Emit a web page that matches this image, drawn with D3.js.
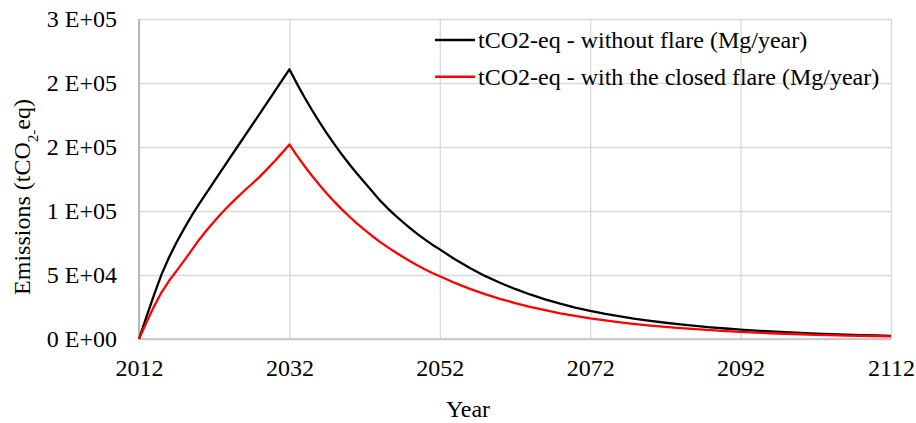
<!DOCTYPE html>
<html>
<head>
<meta charset="utf-8">
<script src="https://cdn.jsdelivr.net/npm/d3@7"></script>
<style>
  body { margin: 0; background: #fff; }
  text { font-family: "Liberation Serif", "Times New Roman", serif; fill: #000; }
</style>
</head>
<body>
<div id="chart"></div>
<script>
// Data.
var years = [2012, 2013, 2014, 2015, 2016, 2017, 2018, 2019, 2020, 2021,
  2022, 2023, 2024, 2025, 2026, 2027, 2028, 2029, 2030, 2031,
  2032, 2033, 2034, 2035, 2036, 2037, 2038, 2039, 2040, 2041,
  2042, 2043, 2044, 2045, 2046, 2047, 2048, 2049, 2050, 2051,
  2052, 2054, 2056, 2058, 2060, 2062, 2064, 2066, 2068, 2070,
  2072, 2074, 2076, 2078, 2080, 2082, 2084, 2086, 2088, 2090,
  2092, 2094, 2096, 2098, 2100, 2102, 2104, 2106, 2108, 2110, 2112];

var withoutFlare = [0, 17500, 34500, 50500, 63800, 75600, 86200, 96300, 105600, 114400,
  123200, 132000, 140700, 149400, 158100, 166800, 175500, 184300, 193100, 201900,
  210700, 199500, 188900, 178900, 169400, 160500, 152000, 143900, 136300, 129100,
  122200, 115500, 108500, 102500, 97000, 91800, 86800, 82100, 77800, 73700,
  70000, 62300, 55400, 49300, 43900, 39100, 34800, 31000, 27600, 24600,
  22000, 19700, 17700, 15800, 14200, 12700, 11400, 10200, 9100, 8200,
  7300, 6600, 5900, 5300, 4700, 4200, 3800, 3400, 3100, 2800, 2500];

var withFlare = [0, 13000, 25500, 36500, 45500, 53200, 61200, 69400, 77600, 85000,
  91800, 98400, 104500, 110300, 115800, 121100, 126500, 132500, 138700, 145200,
  152000, 143300, 135200, 127500, 120300, 113500, 107100, 101100, 95500, 90200,
  85200, 80500, 76100, 72000, 68100, 64400, 60900, 57600, 54500, 51600,
  49000, 43800, 39200, 35100, 31400, 28100, 25100, 22500, 20100, 18000,
  16100, 14500, 13000, 11700, 10500, 9500, 8500, 7700, 6900, 6200,
  5600, 5000, 4500, 4100, 3700, 3300, 3000, 2700, 2400, 2200, 2000];

var seriesNames = ["tCO2-eq - without flare (Mg/year)", "tCO2-eq - with the closed flare (Mg/year)"];
var seriesColors = ["#000000", "#ff0000"];
var xTickValues = [2012, 2032, 2052, 2072, 2092, 2112];
var yTickValues = [0, 50000, 100000, 150000, 200000, 250000];
var yTickLabels = ["0 E+00", "5 E+04", "1 E+05", "2 E+05", "2 E+05", "3 E+05"];

// Set up the width and height of the chart.
var svgWidth = 916;
var svgHeight = 423;
var margin = {top: 19, right: 25, bottom: 84, left: 139};
var chartWidth = svgWidth - margin.left - margin.right;
var chartHeight = svgHeight - margin.top - margin.bottom;
var fontSize = "24px";

var svg = d3.select("#chart").append("svg").attr("width", svgWidth).attr("height", svgHeight);
var chartGroup = svg.append("g").attr("transform", `translate(${margin.left},${margin.top})`);

var xScale = d3.scaleLinear().domain([2012, 2112]).range([0, chartWidth]);
var yScale = d3.scaleLinear().domain([0, 250000]).range([chartHeight, 0]);

// Gridlines.
var yGrid = chartGroup.append("g")
  .call(d3.axisLeft(yScale).tickValues(yTickValues).tickSize(-chartWidth).tickFormat(""));
yGrid.select(".domain").remove();
yGrid.selectAll("line").attr("stroke", "#d9d9d9").attr("stroke-width", 1.3);

var xGrid = chartGroup.append("g")
  .call(d3.axisBottom(xScale).tickValues(xTickValues).tickSize(chartHeight).tickFormat(""));
xGrid.select(".domain").remove();
xGrid.selectAll("line").attr("stroke", "#d9d9d9").attr("stroke-width", 1.3);

// Axis lines.
chartGroup.append("line").attr("x1", 0).attr("x2", chartWidth)
  .attr("y1", chartHeight).attr("y2", chartHeight)
  .attr("stroke", "#bfbfbf").attr("stroke-width", 1.5);
chartGroup.append("line").attr("x1", 0).attr("x2", 0)
  .attr("y1", 0).attr("y2", chartHeight)
  .attr("stroke", "#a6a6a6").attr("stroke-width", 1.5);

// Tick labels.
var leftAxis = chartGroup.append("g")
  .call(d3.axisLeft(yScale).tickValues(yTickValues).tickSize(0).tickPadding(22)
    .tickFormat((d, i) => yTickLabels[i]));
leftAxis.select(".domain").remove();
leftAxis.selectAll("text").style("font-size", fontSize).style("font-family", null);

var bottomAxis = chartGroup.append("g").attr("transform", `translate(0,${chartHeight})`)
  .call(d3.axisBottom(xScale).tickValues(xTickValues).tickSize(0).tickPadding(20)
    .tickFormat(d3.format("d")));
bottomAxis.select(".domain").remove();
bottomAxis.selectAll("text").style("font-size", fontSize).style("font-family", null);

// Lines.
var rows = years.map((y, i) => ({year: y, a: withoutFlare[i], b: withFlare[i]}));
var line = key => d3.line().x(d => xScale(d.year)).y(d => yScale(d[key]));

chartGroup.append("path").datum(rows).attr("d", line("a"))
  .attr("fill", "none").attr("stroke", seriesColors[0]).attr("stroke-width", 2.3)
  .attr("stroke-linejoin", "round");
chartGroup.append("path").datum(rows).attr("d", line("b"))
  .attr("fill", "none").attr("stroke", seriesColors[1]).attr("stroke-width", 2.3)
  .attr("stroke-linejoin", "round");

// Legend.
var legend = svg.append("g").attr("transform", "translate(435,40)");
seriesNames.forEach((name, i) => {
  legend.append("line").attr("x1", 0).attr("x2", 40)
    .attr("y1", i * 36.7).attr("y2", i * 36.7)
    .attr("stroke", seriesColors[i]).attr("stroke-width", 2.5);
  legend.append("text").attr("x", 43).attr("y", i * 36.7 + 8)
    .style("font-size", fontSize).text(name);
});

// Axis titles.
svg.append("text")
  .attr("x", 468).attr("y", 416.5)
  .attr("text-anchor", "middle")
  .style("font-size", fontSize)
  .text("Year");

var yTitle = svg.append("text")
  .attr("transform", "translate(29.5,197) rotate(-90)")
  .attr("text-anchor", "middle")
  .style("font-size", fontSize);
yTitle.append("tspan").text("Emissions (tCO");
yTitle.append("tspan").attr("baseline-shift", "sub").style("font-size", "15px").text("2");
yTitle.append("tspan").attr("baseline-shift", "sub").style("font-size", "15px").text("-");
yTitle.append("tspan").text("eq)");
</script>
</body>
</html>
